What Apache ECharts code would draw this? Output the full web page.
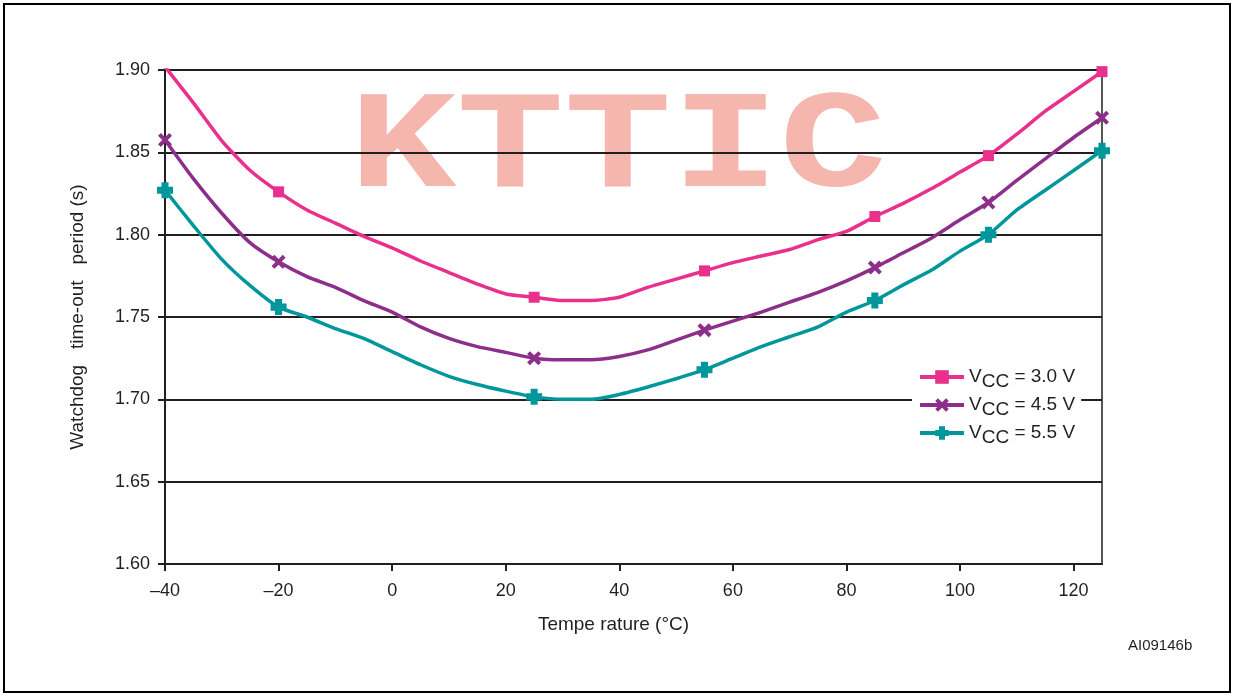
<!DOCTYPE html>
<html>
<head>
<meta charset="utf-8">
<script src="https://cdn.jsdelivr.net/npm/echarts@6/dist/echarts.min.js"></script>
<style>
html,body{margin:0;padding:0;background:#fff;}
#chart{width:1234px;height:697px;}
</style>
</head>
<body>
<div id="chart"></div>
<script>
// Temperature (°C) sample points
const temps = [-40,-35,-30,-25,-20,-15,-10,-5,0,5,10,15,20,25,30,35,40,45,50,55,60,65,70,75,80,85,90,95,100,105,110,115,120,125];
// Watchdog time-out period (s)
const vcc30 = [1.902,1.880,1.857,1.839,1.826,1.815,1.807,1.799,1.792,1.784,1.777,1.770,1.764,1.762,1.760,1.760,1.762,1.768,1.773,1.778,1.783,1.787,1.791,1.797,1.802,1.811,1.819,1.828,1.838,1.848,1.861,1.875,1.887,1.899];
const vcc45 = [1.8575,1.834,1.813,1.795,1.7835,1.7745,1.768,1.760,1.753,1.744,1.737,1.732,1.7285,1.725,1.724,1.724,1.726,1.730,1.736,1.742,1.7475,1.753,1.759,1.765,1.772,1.780,1.789,1.798,1.809,1.8195,1.833,1.846,1.859,1.871];
const vcc55 = [1.827,1.8055,1.785,1.769,1.756,1.750,1.743,1.737,1.729,1.721,1.714,1.709,1.705,1.7015,1.700,1.700,1.703,1.7075,1.7125,1.718,1.725,1.732,1.738,1.744,1.753,1.760,1.7695,1.7785,1.790,1.800,1.815,1.827,1.839,1.851];
// Temperatures carrying a marker
const markers30 = [-20,25,55,85,105,125];
const markers45 = [-40,-20,25,55,85,105,125];
const markers55 = [-40,-20,25,55,85,105,125];
const seriesNames = ['VCC = 3.0 V','VCC = 4.5 V','VCC = 5.5 V'];
const yTicks = [1.60,1.65,1.70,1.75,1.80,1.85,1.90];
const xTicks = [-40,-20,0,20,40,60,80,100,120];

const TXT = '#231f20';
const FONT = '"Liberation Sans", Arial, sans-serif';

function build(vals, marks) {
  return temps.map((t, i) => marks.indexOf(t) >= 0 ? [t, vals[i]] : {value: [t, vals[i]], symbol: 'none'});
}

const symX = 'path://M0,2 L2,0 L5,3 L8,0 L10,2 L7,5 L10,8 L8,10 L5,7 L2,10 L0,8 L3,5 Z';
const symPlus = 'path://M2.8,0 H7.2 V2.8 H10 V7.2 H7.2 V10 H2.8 V7.2 H0 V2.8 H2.8 Z';

const chart = echarts.init(document.getElementById('chart'), null, {renderer: 'canvas'});
const option = {
  backgroundColor: '#fff',
  animation: false,
  grid: {left: 165, right: 132, top: 70, bottom: 133, show: true, borderColor: TXT, borderWidth: 1.5, backgroundColor: 'transparent'},
  graphic: [
    {type: 'rect', z: 100, shape: {x: 4, y: 4, width: 1226, height: 688}, style: {fill: 'none', stroke: '#000', lineWidth: 2}},
    {type: 'text', z: -1, x: 349, y: 81, scaleX: 1.036, scaleY: 0.81,
      style: {x: 0, y: 0, text: 'KTTIC', font: 'bold 173px "Liberation Mono", "Courier New", monospace', fill: '#f4b6ad'}},
    {type: 'text', left: 1128, top: 638, style: {text: 'AI09146b', font: '15px ' + FONT, fill: TXT}}
  ],
  legend: {
    orient: 'vertical', left: 912, top: 361, padding: [2, 6], itemGap: 0,
    itemWidth: 44, itemHeight: 17, backgroundColor: '#fff', z: 10,
    data: seriesNames,
    lineStyle: {width: 4},
    formatter: n => '{a|V}{s|CC}{a| = ' + n.split('= ')[1] + '}',
    textStyle: {
      color: TXT, fontFamily: FONT, fontSize: 19,
      rich: {
        a: {fontSize: 19, fontFamily: FONT, color: TXT, lineHeight: 18, padding: [4, 0, 5, 0]},
        s: {fontSize: 19, fontFamily: FONT, color: TXT, lineHeight: 18, padding: [9, 0, 0, 0]}
      }
    }
  },
  xAxis: {
    type: 'value', min: -40, max: 125, interval: 20,
    name: 'Tempe rature (°C)', nameLocation: 'middle', nameGap: 51,
    nameTextStyle: {color: TXT, fontSize: 19, fontFamily: FONT, padding: [0, 40, 0, 0]},
    axisLine: {show: true, onZero: false, lineStyle: {color: TXT, width: 2}},
    axisTick: {show: true, length: 7, lineStyle: {color: TXT, width: 2}, customValues: xTicks},
    axisLabel: {color: TXT, fontSize: 18, fontFamily: FONT, margin: 18, customValues: xTicks,
      formatter: v => (v < 0 ? '\u2013' + Math.abs(v) : String(v))},
    splitLine: {show: false}
  },
  yAxis: {
    type: 'value', min: 1.60, max: 1.90, interval: 0.05,
    name: 'Watchdog   time-out   period (s)', nameLocation: 'middle', nameGap: 78,
    nameTextStyle: {color: TXT, fontSize: 19, fontFamily: FONT},
    axisLine: {show: true, onZero: false, lineStyle: {color: TXT, width: 2}},
    axisTick: {show: true, length: 7, lineStyle: {color: TXT, width: 2}},
    axisLabel: {color: TXT, fontSize: 18, fontFamily: FONT, margin: 15, formatter: v => v.toFixed(2)},
    splitLine: {show: true, lineStyle: {color: TXT, width: 2}}
  },
  series: [
    {name: seriesNames[0], type: 'line', data: build(vcc30, markers30), smooth: 0.2, symbol: 'rect', symbolSize: 11,
      lineStyle: {color: '#e8308c', width: 3.5}, itemStyle: {color: '#e8308c'}, z: 5},
    {name: seriesNames[1], type: 'line', data: build(vcc45, markers45), smooth: 0.2, symbol: symX, symbolSize: 14,
      lineStyle: {color: '#8e2e8b', width: 3.5}, itemStyle: {color: '#8e2e8b'}, z: 5},
    {name: seriesNames[2], type: 'line', data: build(vcc55, markers55), smooth: 0.2, symbol: symPlus, symbolSize: 16,
      lineStyle: {color: '#00979c', width: 3.5}, itemStyle: {color: '#00979c'}, z: 5}
  ]
};
chart.setOption(option);
</script>
</body>
</html>
